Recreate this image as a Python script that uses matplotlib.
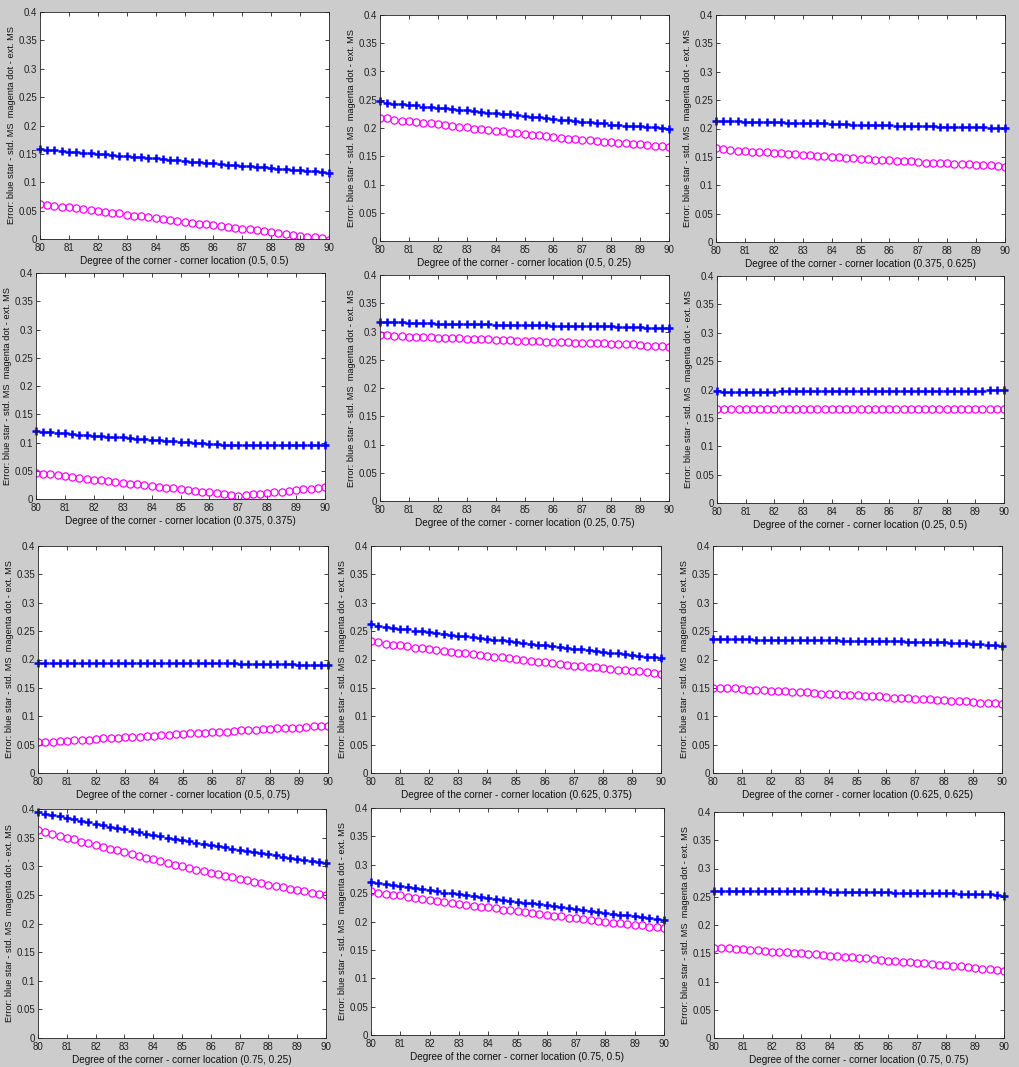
import numpy as np
import matplotlib.pyplot as plt

plt.rcParams['font.family'] = ['Liberation Sans', 'DejaVu Sans']

# degree of the corner, 80:0.25:90
deg = np.arange(80, 90.001, 0.25)

locations = ['(0.5, 0.5)', '(0.5, 0.25)', '(0.375, 0.625)',
             '(0.375, 0.375)', '(0.25, 0.75)', '(0.25, 0.5)',
             '(0.5, 0.75)', '(0.625, 0.375)', '(0.625, 0.625)',
             '(0.75, 0.25)', '(0.75, 0.5)', '(0.75, 0.75)']

# blue star - std. MS
std_ms = [
    [.158, .157, .156, .155, .154, .153, .152, .151, .150, .149, .148, .147, .146, .145, .144, .143,
     .142, .141, .140, .139, .138, .136, .135, .134, .134, .132, .131, .130, .129, .128, .127, .126,
     .125, .124, .123, .122, .121, .120, .119, .118, .117],
    [.247, .245, .243, .242, .241, .240, .238, .237, .236, .235, .234, .232, .231, .230, .229, .227,
     .226, .225, .224, .223, .221, .220, .219, .218, .216, .215, .214, .213, .211, .210, .209, .208,
     .206, .205, .204, .203, .203, .202, .201, .200, .199],
    [.213, .213, .213, .213, .212, .212, .212, .211, .211, .211, .210, .210, .210, .209, .209, .209,
     .208, .208, .208, .207, .207, .207, .206, .206, .206, .205, .205, .205, .204, .204, .204, .203,
     .203, .203, .203, .202, .202, .202, .201, .201, .201],
    [.120, .119, .118, .117, .116, .115, .114, .113, .112, .111, .110, .110, .109, .108, .107, .106,
     .105, .104, .103, .102, .101, .101, .100, .099, .098, .097, .096, .095, .095, .095, .095, .095,
     .095, .095, .095, .095, .095, .095, .095, .095, .095],
    [.316, .316, .316, .316, .315, .315, .315, .315, .314, .314, .314, .314, .313, .313, .313, .313,
     .312, .312, .312, .312, .311, .311, .311, .311, .310, .310, .310, .310, .309, .309, .309, .309,
     .309, .308, .308, .308, .308, .307, .307, .307, .307],
    [.197, .196, .196, .196, .196, .196, .196, .196, .196, .197, .197, .197, .197, .197, .197, .197,
     .197, .197, .197, .197, .197, .197, .197, .197, .197, .197, .197, .197, .197, .197, .197, .197,
     .197, .197, .197, .197, .198, .198, .199, .199, .199],
    [.194, .194, .194, .194, .194, .194, .194, .194, .194, .194, .194, .194, .194, .194, .194, .194,
     .194, .193, .193, .193, .193, .193, .193, .193, .193, .193, .193, .193, .192, .192, .192, .192,
     .192, .192, .192, .192, .191, .191, .191, .191, .191],
    [.262, .259, .258, .256, .254, .253, .251, .250, .248, .247, .245, .244, .242, .241, .239, .238,
     .237, .235, .234, .232, .231, .229, .228, .226, .225, .224, .222, .220, .219, .218, .216, .215,
     .213, .212, .211, .209, .208, .207, .205, .204, .203],
    [.236, .236, .236, .236, .236, .236, .235, .235, .235, .235, .235, .235, .235, .234, .234, .234,
     .234, .234, .233, .233, .233, .233, .233, .232, .232, .232, .232, .231, .231, .231, .230, .230,
     .230, .229, .229, .229, .228, .227, .226, .226, .224],
    [.395, .392, .390, .387, .385, .382, .379, .377, .374, .372, .369, .367, .365, .362, .360, .357,
     .355, .353, .350, .348, .346, .344, .341, .339, .337, .335, .333, .331, .329, .327, .325, .323,
     .321, .319, .317, .315, .313, .311, .310, .308, .306],
    [.270, .268, .266, .264, .262, .260, .259, .257, .255, .253, .251, .250, .248, .246, .245, .243,
     .241, .240, .238, .236, .235, .233, .232, .230, .229, .227, .225, .224, .222, .220, .218, .217,
     .215, .214, .212, .211, .210, .208, .206, .205, .203],
    [.261, .261, .261, .261, .261, .261, .261, .261, .261, .260, .260, .260, .260, .260, .260, .260,
     .259, .259, .259, .259, .258, .258, .258, .258, .258, .257, .257, .257, .257, .257, .256, .256,
     .256, .256, .255, .255, .254, .254, .254, .253, .252],
]

# magenta dot - ext. MS
ext_ms = [
    [.062, .060, .059, .057, .056, .054, .053, .051, .050, .048, .046, .045, .043, .041, .040, .038,
     .037, .035, .033, .032, .030, .029, .027, .026, .024, .023, .021, .020, .018, .017, .015, .014,
     .012, .010, .009, .007, .006, .004, .003, .002, -.001],
    [.218, .217, .215, .213, .212, .211, .209, .208, .207, .205, .204, .202, .201, .199, .198, .196,
     .195, .194, .192, .191, .190, .188, .187, .185, .184, .183, .181, .180, .179, .178, .177, .176,
     .175, .174, .173, .172, .171, .170, .169, .168, .167],
    [.166, .164, .162, .161, .160, .159, .158, .158, .157, .156, .155, .155, .154, .153, .152, .151,
     .150, .149, .148, .148, .147, .146, .145, .145, .144, .143, .142, .142, .141, .140, .140, .139,
     .139, .138, .137, .137, .136, .135, .135, .134, .133],
    [.046, .045, .044, .042, .040, .039, .037, .035, .034, .033, .031, .030, .028, .027, .026, .024,
     .023, .021, .020, .019, .017, .016, .014, .013, .012, .010, .009, .007, .006, .007, .008, .009,
     .011, .012, .013, .015, .016, .017, .018, .020, .021],
    [.294, .293, .292, .292, .291, .291, .290, .290, .289, .289, .288, .288, .287, .287, .286, .286,
     .285, .285, .285, .284, .284, .283, .283, .282, .282, .281, .281, .280, .280, .279, .279, .279,
     .278, .277, .277, .277, .276, .275, .275, .274, .273],
    [.166, .166, .166, .166, .166, .166, .165, .165, .165, .165, .165, .165, .165, .165, .165, .165,
     .165, .165, .165, .165, .165, .165, .165, .165, .165, .165, .165, .165, .165, .165, .165, .165,
     .165, .165, .165, .165, .165, .166, .166, .166, .166],
    [.054, .055, .055, .056, .057, .058, .058, .059, .060, .061, .061, .062, .063, .064, .064, .065,
     .066, .067, .067, .068, .069, .070, .070, .071, .072, .073, .073, .074, .075, .076, .076, .077,
     .078, .079, .079, .080, .080, .081, .082, .082, .083],
    [.232, .230, .228, .226, .225, .223, .221, .220, .219, .217, .215, .214, .212, .211, .209, .208,
     .207, .205, .204, .202, .201, .199, .198, .196, .195, .193, .192, .190, .189, .188, .187, .186,
     .185, .183, .182, .181, .180, .179, .178, .176, .175],
    [.150, .150, .149, .149, .148, .147, .147, .146, .145, .145, .144, .143, .142, .142, .141, .140,
     .140, .139, .138, .138, .137, .136, .136, .135, .134, .133, .133, .132, .131, .130, .130, .129,
     .128, .127, .127, .126, .125, .124, .124, .123, .122],
    [.364, .360, .357, .353, .350, .347, .343, .340, .337, .334, .331, .328, .325, .322, .318, .315,
     .312, .309, .306, .303, .300, .297, .294, .292, .289, .286, .283, .281, .278, .276, .273, .271,
     .268, .266, .263, .261, .258, .256, .254, .252, .250],
    [.253, .251, .249, .247, .246, .244, .242, .240, .238, .236, .234, .233, .231, .229, .228, .226,
     .225, .223, .221, .220, .218, .216, .215, .213, .212, .210, .209, .207, .206, .204, .203, .201,
     .200, .198, .197, .195, .194, .193, .191, .190, .189],
    [.160, .159, .159, .158, .157, .156, .156, .154, .153, .152, .152, .151, .150, .149, .148, .147,
     .146, .145, .144, .143, .142, .141, .140, .138, .137, .136, .135, .134, .133, .132, .131, .130,
     .129, .128, .127, .125, .124, .123, .122, .120, .119],
]

# axes boxes in pixels: left, top, right, bottom
boxes = [
    (40, 12, 329, 239), (380, 15, 669, 241), (716, 15, 1005, 242),
    (36, 273, 325, 499), (380, 275, 669, 501), (717, 276, 1004, 503),
    (38, 546, 328, 773), (371, 546, 661, 773), (713, 546, 1002, 773),
    (38, 809, 326, 1038), (371, 808, 664, 1035), (714, 812, 1004, 1038),
]

W, H = 1020, 1067
fig = plt.figure(figsize=(W / 100, H / 100), dpi=100, facecolor='#cccccc')

for i in range(12):
    l, t, r, b = boxes[i]
    ax = fig.add_axes([l / W, 1 - b / H, (r - l) / W, (b - t) / H])
    ax.plot(deg, std_ms[i], '+', color='#0000ff', ms=5.5, mew=1.8, clip_on=False)
    ax.plot(deg, ext_ms[i], 'o', mfc='none', mec='#ff00ff', ms=5.2, mew=0.9)
    ax.set_xlim(80, 90)
    ax.set_ylim(0, 0.4)
    ax.set_xticks(range(80, 91))
    ax.set_yticks(np.arange(0, 0.401, 0.05))
    ax.set_yticklabels(['0', '0.05', '0.1', '0.15', '0.2', '0.25', '0.3', '0.35', '0.4'])
    ax.tick_params(direction='in', top=True, right=True, length=3, width=0.6,
                   labelsize=7, colors='#222222')
    ax.tick_params(axis='x', pad=3)
    ax.tick_params(axis='y', pad=2)
    for s in ax.spines.values():
        s.set_linewidth(0.6)
        s.set_color('#222222')
    ax.set_xlabel('Degree of the corner - corner location ' + locations[i], fontsize=7.2,
                  labelpad=2, color='#111111')
    ax.set_ylabel('Error: blue star - std. MS  magenta dot - ext. MS', fontsize=6.7,
                  color='#111111')
    ax.yaxis.set_label_coords(-24 / (r - l), 0.5)

plt.savefig('out.png', dpi=100, facecolor=fig.get_facecolor())
